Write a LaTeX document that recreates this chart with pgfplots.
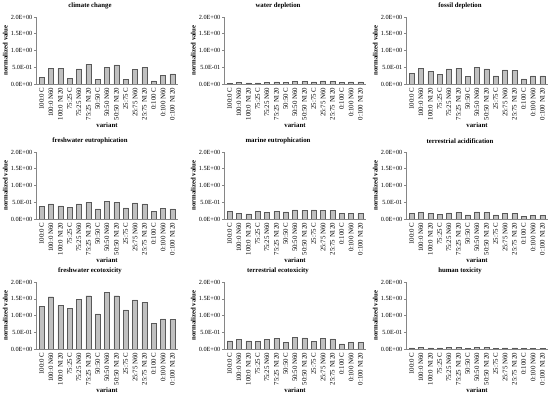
\documentclass[border=0pt]{standalone}
\usepackage{pgfplots}
\pgfplotsset{compat=1.18}
\usepackage{fontspec}
\setmainfont{Liberation Serif}
\definecolor{barfill}{HTML}{C0C0C0}
\definecolor{bardraw}{HTML}{595959}
\definecolor{axgray}{HTML}{868686}
\pgfplotsset{
  panel/.style={
    scale only axis, width=142bp, height=67bp, anchor=south west,
    ymin=0, ymax=2, xmin=-0.6, xmax=14.6,
    axis x line*=bottom, axis y line*=left,
    axis line style={axgray, line width=0.5pt},
    ytick={0,0.5,1,1.5,2},
    yticklabels={0.0E+00,5.0E-01,1.0E+00,1.5E+00,2.0E+00},
    xtick={0,...,14},
    xticklabels={100:0 C,100:0 N60,100:0 N120,75:25 C,75:25 N60,75:25 N120,50:50 C,50:50 N60,50:50 N120,25:75 C,25:75 N60,25:75 N120,0:100 C,0:100 N60,0:100 N120},
    x tick label style={rotate=90, anchor=east, font=\fontsize{6.9}{7}\selectfont, inner sep=1.5pt},
    y tick label style={font=\fontsize{6.3}{7}\selectfont, inner sep=1.5pt},
    xtick style={draw=none},
    ytick style={axgray, line width=0.5pt},
    tick align=outside, major tick length=2bp,
    xlabel={variant}, ylabel={normalized value},
    label style={font=\bfseries\fontsize{6.8}{7}\selectfont},
    xlabel style={yshift=3pt},
    ylabel style={yshift=-2pt},
    title style={font=\bfseries\fontsize{6.8}{7}\selectfont, yshift=-1.5pt, xshift=-17bp},
    ybar, bar width=5bp,
  },
  mybar/.style={fill=barfill, draw=bardraw, line width=0.4pt},
}
\begin{document}
\begin{tikzpicture}
\useasboundingbox (0,0) rectangle (550bp,398bp);
% row 1
\begin{axis}[panel, at={(36bp,314bp)}, title={climate change}]
\addplot[mybar] coordinates {(0,0.19) (1,0.47) (2,0.47) (3,0.17) (4,0.45) (5,0.59) (6,0.13) (7,0.50) (8,0.57) (9,0.14) (10,0.43) (11,0.49) (12,0.09) (13,0.25) (14,0.30)};
\end{axis}
\begin{axis}[panel, at={(224bp,314bp)}, title={water depletion}]
\addplot[mybar] coordinates {(0,0.02) (1,0.04) (2,0.03) (3,0.03) (4,0.05) (5,0.06) (6,0.04) (7,0.08) (8,0.07) (9,0.06) (10,0.09) (11,0.07) (12,0.05) (13,0.06) (14,0.06)};
\end{axis}
\begin{axis}[panel, at={(406bp,314bp)}, title={fossil depletion}]
\addplot[mybar] coordinates {(0,0.31) (1,0.47) (2,0.37) (3,0.28) (4,0.45) (5,0.47) (6,0.23) (7,0.49) (8,0.45) (9,0.24) (10,0.42) (11,0.40) (12,0.15) (13,0.24) (14,0.24)};
\end{axis}
% row 2
\begin{axis}[panel, at={(36bp,179bp)}, title={freshwater eutrophication}]
\addplot[mybar] coordinates {(0,0.38) (1,0.45) (2,0.39) (3,0.35) (4,0.45) (5,0.49) (6,0.30) (7,0.53) (8,0.49) (9,0.33) (10,0.48) (11,0.45) (12,0.23) (13,0.31) (14,0.30)};
\end{axis}
\begin{axis}[panel, at={(224bp,179bp)}, title={marine eutrophication}]
\addplot[mybar] coordinates {(0,0.22) (1,0.17) (2,0.15) (3,0.23) (4,0.20) (5,0.22) (6,0.21) (7,0.27) (8,0.26) (9,0.27) (10,0.26) (11,0.26) (12,0.17) (13,0.16) (14,0.16)};
\end{axis}
\begin{axis}[panel, at={(406bp,179bp)}, title={terrestrial acidification}]
\addplot[mybar] coordinates {(0,0.16) (1,0.19) (2,0.16) (3,0.14) (4,0.18) (5,0.19) (6,0.12) (7,0.21) (8,0.19) (9,0.12) (10,0.16) (11,0.16) (12,0.08) (13,0.11) (14,0.11)};
\end{axis}
% row 3
\begin{axis}[panel, at={(36bp,49bp)}, title={freshwater ecotoxicity}]
\addplot[mybar] coordinates {(0,1.28) (1,1.56) (2,1.30) (3,1.22) (4,1.49) (5,1.59) (6,1.05) (7,1.70) (8,1.59) (9,1.17) (10,1.47) (11,1.39) (12,0.76) (13,0.90) (14,0.88)};
\end{axis}
\begin{axis}[panel, at={(224bp,49bp)}, title={terrestrial ecotoxicity}]
\addplot[mybar] coordinates {(0,0.24) (1,0.29) (2,0.24) (3,0.23) (4,0.29) (5,0.31) (6,0.20) (7,0.35) (8,0.33) (9,0.23) (10,0.31) (11,0.30) (12,0.15) (13,0.20) (14,0.19)};
\end{axis}
\begin{axis}[panel, at={(406bp,49bp)}, title={human toxicity}]
\addplot[mybar] coordinates {(0,0.03) (1,0.04) (2,0.03) (3,0.03) (4,0.04) (5,0.04) (6,0.02) (7,0.04) (8,0.04) (9,0.02) (10,0.03) (11,0.03) (12,0.01) (13,0.02) (14,0.02)};
\end{axis}
\end{tikzpicture}
\end{document}
